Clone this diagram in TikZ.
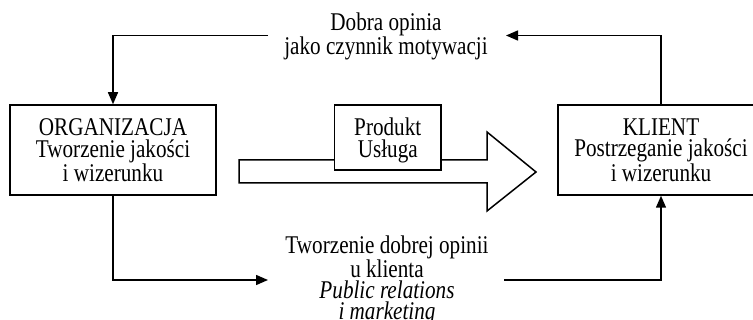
\documentclass[tikz,border=0pt]{standalone}
\usepackage{fontspec}
\setmainfont{Liberation Serif}[FakeStretch=0.83]
\usetikzlibrary{arrows.meta}
\begin{document}
\begin{tikzpicture}[x=1pt,y=-1pt,line width=1.5pt,
  boxtxt/.style={font=\fontsize{25.5}{21.5}\selectfont},
  lbltxt/.style={font=\fontsize{25.5}{21}\selectfont},
  box/.style={draw,fill=white,align=center,inner sep=0pt,boxtxt},
  lbl/.style={align=center,inner sep=0pt,lbltxt},
  conn/.style={-{Triangle[length=12pt,width=10pt]}},
  bigarrow/.style={draw,fill=white,line join=miter}]
\useasboundingbox (0,0) rectangle (753,320);
\clip (0,0) rectangle (753,320);
% big arrow
\draw[bigarrow] (239,160) -- (487,160) -- (487,132) -- (536,172) -- (487,211) -- (487,183) -- (239,183) -- cycle;
% boxes
\node[box,minimum width=206pt,minimum height=90pt] (org) at (113,150) {ORGANIZACJA\\Tworzenie jakości\\i wizerunku};
\node[box,minimum width=206pt,minimum height=90pt] (kl) at (661,150) {KLIENT\\Postrzeganie jakości\\i wizerunku};
\node[box,minimum width=106.5pt,minimum height=65pt,text depth=0pt,font=\fontsize{25.5}{22.5}\selectfont] (prod) at (387.75,137.5) {Produkt\\Usługa};
% labels
\node[lbl] (top) at (386,36.6) {Dobra opinia\\jako czynnik motywacji};
\node[lbl] (bot) at (387,280.5) {Tworzenie dobrej opinii\\u klienta\\\textit{Public relations}\\\textit{i marketing}};
% connector ends
\coordinate (tl) at (268,35.5);
\coordinate (tr) at (506,35.5);
\coordinate (bl) at (268,280);
\coordinate (br) at (504,280);
\draw[conn] (tl) -| (org.north);
\draw[conn] (kl.north) |- (tr);
\draw[conn] (org.south) |- (bl);
\draw[conn] (br) -| (kl.south);
\end{tikzpicture}
\end{document}
